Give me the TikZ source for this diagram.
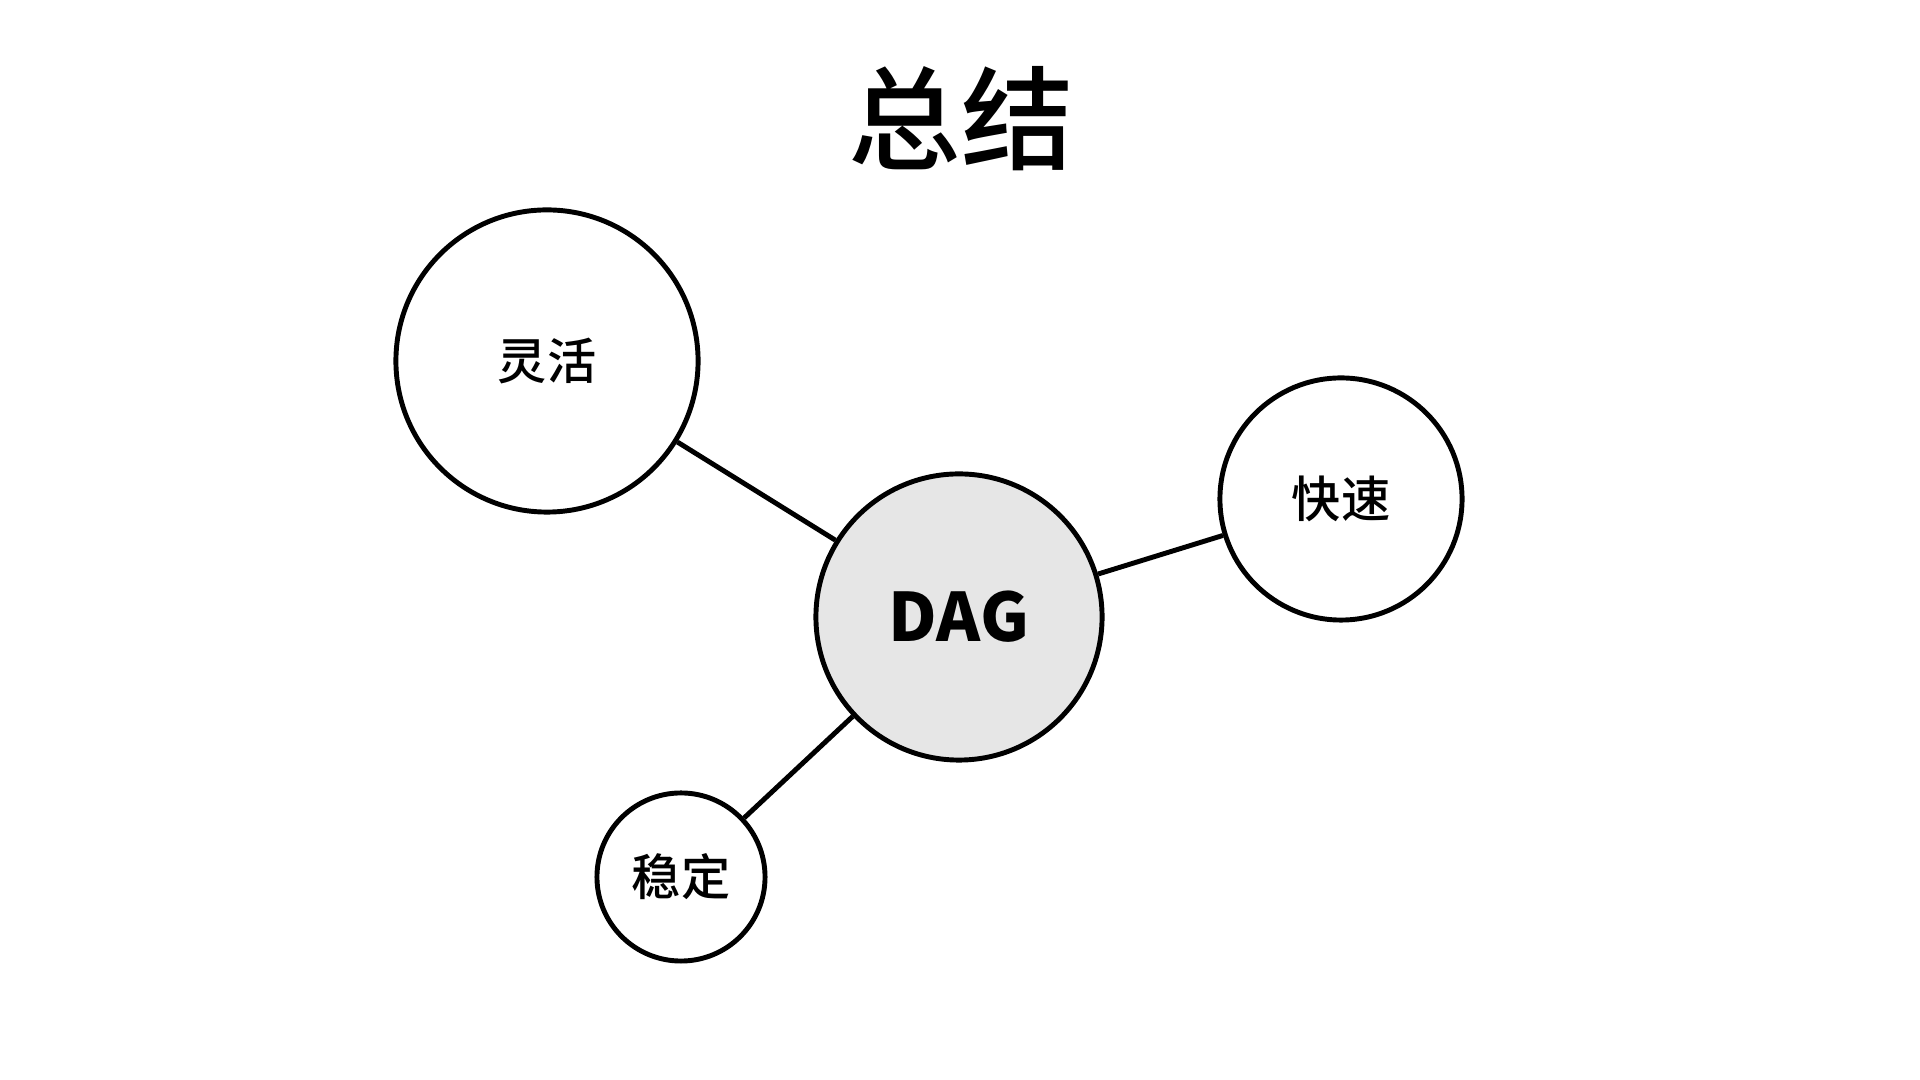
\documentclass[tikz,border=0pt]{standalone}
\usepackage{fontspec}
\setmainfont{Noto Sans CJK SC}[BoldFont={Noto Sans CJK SC Medium}]
\newfontfamily\dagfont{Noto Sans CJK SC}
\usepackage{tikz}
\usetikzlibrary{positioning}
\definecolor{hubgray}{RGB}{230,230,230}
\tikzstyle{topic} = [circle, draw=black, line width=1.4pt, fill=white, inner sep=0pt, font=\fontsize{14}{16}\selectfont\bfseries]
\tikzstyle{link} = [line width=1.4pt, draw=black]

\begin{document}
\begin{tikzpicture}[x=0.01cm, y=-0.01cm]
\useasboundingbox (0,0) rectangle (1920,1080);

\node (title) at (961,119) {\fontsize{32}{36}\selectfont\bfseries 总结};

\node (dag) [topic, minimum size=2.86cm, fill=hubgray, font=\fontsize{19}{22}\selectfont\dagfont\bfseries] at (959,617) {DAG};
\node (flex) [topic, minimum size=3.02cm] at (547,361) {灵活};
\node (fast) [topic, minimum size=2.42cm] at (1341,499) {快速};
\node (stable) [topic, minimum size=1.68cm] at (681,877) {稳定};

\draw [link] (dag) -- (flex);
\draw [link] (dag) -- (fast);
\draw [link] (dag) -- (stable);

\end{tikzpicture}
\end{document}
